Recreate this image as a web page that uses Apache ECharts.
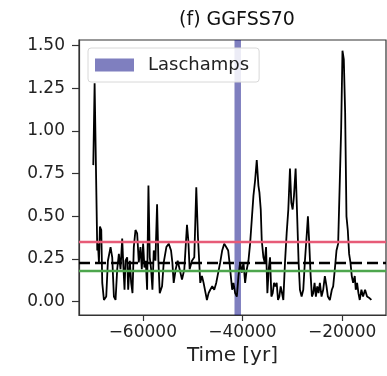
<!DOCTYPE html>
<html>
<head>
<meta charset="utf-8">
<script src="https://cdn.jsdelivr.net/npm/echarts@6/dist/echarts.min.js"></script>
<style>html,body{margin:0;padding:0;background:#fff;}#c{width:387px;height:376px;}</style>
</head>
<body>
<div id="c"></div>
<script>
const years = [-69933,-69667,-69133,-69000,-68800,-68600,-68333,-68133,-67800,-67333,-67000,-66467,-66133,-65800,-65467,-65133,-64800,-64467,-64133,-63933,-63667,-63467,-63133,-62933,-62600,-62333,-62067,-61800,-61467,-61133,-60800,-60467,-60200,-59933,-59667,-59400,-59133,-58867,-58600,-58333,-58067,-57800,-57467,-57133,-56867,-56600,-56133,-55800,-55267,-54800,-54333,-54067,-53800,-53400,-53000,-52600,-52133,-51667,-51133,-50867,-50600,-50133,-49667,-49267,-48933,-48467,-48133,-47800,-47400,-47133,-46800,-46467,-46067,-45667,-45267,-44867,-44467,-44067,-43667,-43267,-42867,-42600,-42333,-42067,-41800,-41467,-41133,-40800,-40467,-40133,-39800,-39467,-39133,-38800,-38467,-38133,-37800,-37467,-37133,-36800,-36600,-36333,-36133,-35800,-35533,-35267,-35000,-34733,-34467,-34200,-33933,-33667,-33400,-33133,-32867,-32600,-32333,-32067,-31800,-31467,-31133,-30800,-30467,-30200,-29933,-29667,-29333,-29067,-28733,-28467,-28133,-27800,-27467,-27133,-26867,-26600,-26333,-26067,-25800,-25533,-25267,-25000,-24733,-24467,-24133,-23800,-23467,-23133,-22867,-22467,-22067,-21800,-21467,-21133,-20800,-20467,-20200,-19933,-19667,-19400,-19133,-18867,-18600,-18333,-18067,-17800,-17467,-17267,-17000,-16733,-16467,-16133,-15800,-15400,-15000,-14467,-14133];
const values = [0.80,1.28,0.30,0.34,0.23,0.44,0.42,0.11,0.01,0.03,0.24,0.32,0.26,0.03,0.01,0.19,0.28,0.19,0.37,0.23,0.07,0.24,0.26,0.07,0.24,0.11,0.05,0.32,0.42,0.40,0.23,0.32,0.19,0.34,0.20,0.24,0.07,0.68,0.26,0.19,0.07,0.30,0.24,0.57,0.24,0.05,0.09,0.23,0.32,0.34,0.30,0.23,0.11,0.19,0.24,0.23,0.13,0.19,0.45,0.36,0.19,0.24,0.26,0.67,0.38,0.11,0.15,0.11,0.05,0.01,0.05,0.07,0.09,0.07,0.11,0.17,0.23,0.30,0.34,0.32,0.30,0.23,0.15,0.07,0.11,0.05,0.03,0.15,0.23,0.17,0.23,0.11,0.19,0.24,0.34,0.48,0.62,0.71,0.83,0.68,0.64,0.54,0.36,0.26,0.23,0.32,0.05,0.19,0.26,0.03,0.05,0.11,0.09,0.11,0.01,0.03,0.09,0.05,0.01,0.23,0.40,0.54,0.78,0.58,0.54,0.62,0.78,0.54,0.23,0.07,0.03,0.07,0.24,0.38,0.50,0.34,0.16,0.03,0.05,0.11,0.03,0.09,0.05,0.11,0.03,0.07,0.15,0.09,0.03,0.01,0.07,0.09,0.19,0.30,0.34,0.71,1.01,1.47,1.42,1.11,0.50,0.42,0.28,0.23,0.15,0.11,0.15,0.07,0.11,0.05,0.01,0.07,0.03,0.07,0.03,0.02,0.01];
const levelRed = 0.35;
const levelMean = 0.234;
const levelGreen = 0.182;
const laschamps = [-41600, -40300];
const xTicks = [-60000, -40000, -20000];
const yTicks = [0, 0.25, 0.5, 0.75, 1.0, 1.25, 1.5];

const font = 'DejaVu Sans';
const chart = echarts.init(document.getElementById('c'), null, {renderer: 'canvas'});
chart.setOption({
  animation: false,
  backgroundColor: '#fff',
  title: {
    text: '(f) GGFSS70', left: 232, top: 6, textAlign: 'center',
    textStyle: {fontFamily: font, fontSize: 19, fontWeight: 'normal', color: '#111'}
  },
  legend: {
    left: 88, top: 48,
    padding: [8, 10, 8, 7],
    backgroundColor: 'rgba(255,255,255,0.85)',
    borderColor: '#d8d8d8', borderWidth: 1, borderRadius: 3,
    itemWidth: 39, itemHeight: 13,
    textStyle: {fontFamily: font, fontSize: 18, color: '#222', padding: [0, 0, 0, 9]},
    data: [{name: 'Laschamps', icon: 'rect'}]
  },
  grid: {left: 79, right: 1, top: 40, bottom: 61, show: true, borderColor: '#333', borderWidth: 1.2, containLabel: false},
  xAxis: {
    type: 'value', min: -72800, max: -11200,
    name: 'Time [yr]', nameLocation: 'middle', nameGap: 26,
    nameTextStyle: {fontFamily: font, fontSize: 20, color: '#222'},
    axisLine: {show: true, onZero: false, lineStyle: {color: '#333', width: 1.2}},
    axisTick: {show: true, length: 6, customValues: xTicks, lineStyle: {color: '#333', width: 1.2}},
    axisLabel: {customValues: xTicks, margin: 9, fontFamily: font, fontSize: 17, color: '#222',
      formatter: v => String(v).replace('-', '\u2212')},
    splitLine: {show: false}
  },
  yAxis: {
    type: 'value', min: -0.078, max: 1.533,
    axisLine: {show: true, onZero: false, lineStyle: {color: '#333', width: 1.2}},
    axisTick: {show: true, length: 7, customValues: yTicks, lineStyle: {color: '#333', width: 1.2}},
    axisLabel: {customValues: yTicks, margin: 14, fontFamily: font, fontSize: 17, color: '#222',
      formatter: v => v.toFixed(2)},
    splitLine: {show: false}
  },
  series: [
    {
      name: 'Laschamps', type: 'bar', data: [],
      itemStyle: {color: 'rgb(127,127,191)'},
      markArea: {
        silent: true,
        itemStyle: {color: 'rgba(0,0,128,0.5)'},
        data: [[{xAxis: laschamps[0]}, {xAxis: laschamps[1]}]]
      }
    },
    {
      name: 'GGFSS70', type: 'line', showSymbol: false, symbol: 'none',
      data: years.map((y, i) => [y, values[i]]),
      lineStyle: {color: '#000', width: 1.8}, z: 3,
      markLine: {
        silent: true, symbol: 'none', label: {show: false},
        data: [
          {yAxis: levelRed, lineStyle: {color: '#e75b77', width: 2.4, type: 'solid'}},
          {yAxis: levelGreen, lineStyle: {color: '#4da64d', width: 2.4, type: 'solid'}},
          {yAxis: levelMean, lineStyle: {color: '#000', width: 2.4, type: [11, 5]}}
        ]
      }
    }
  ]
});
</script>
</body>
</html>
